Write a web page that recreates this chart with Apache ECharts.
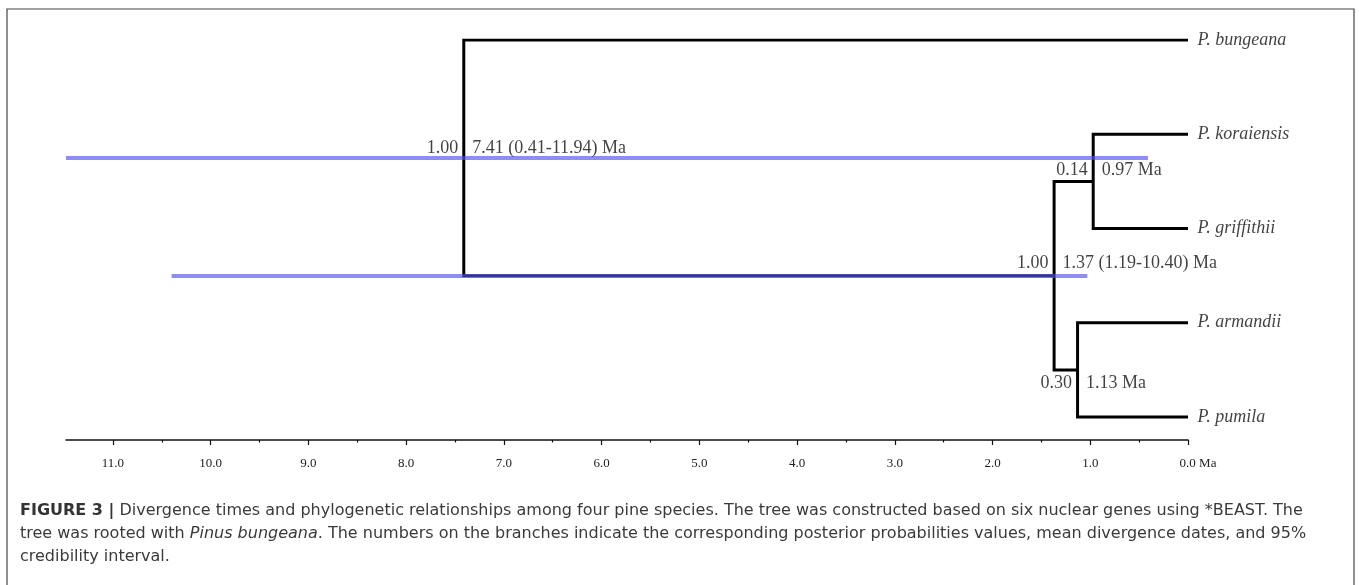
<!DOCTYPE html>
<html>
<head>
<meta charset="utf-8">
<script src="https://cdn.jsdelivr.net/npm/echarts@6/dist/echarts.min.js"></script>
<style>html,body{margin:0;padding:0;background:#fff}#c{width:1359px;height:585px}</style>
</head>
<body>
<div id="c"></div>
<script>
// ---- data ----
const species = ['P. bungeana', 'P. koraiensis', 'P. griffithii', 'P. armandii', 'P. pumila'];
const nodeIds = ['root', 'nA', 'nB', 'nC'];
const nodeAges = [7.41, 1.37, 0.97, 1.13];
const nodeChildren = [['P. bungeana', 'nA'], ['nB', 'nC'], ['P. koraiensis', 'P. griffithii'], ['P. armandii', 'P. pumila']];
const posteriors = ['1.00', '1.00', '0.14', '0.30'];
const hpdLow = [0.41, 1.19, null, null];
const hpdHigh = [11.94, 10.40, null, null];
const hpdBarFrom = [0.41, 1.03, null, null];   // bar ends
const hpdBarTo = [11.94, 10.40, null, null];
const majorTicks = [0, 1, 2, 3, 4, 5, 6, 7, 8, 9, 10, 11];
const minorTicks = [0.5, 1.5, 2.5, 3.5, 4.5, 5.5, 6.5, 7.5, 8.5, 9.5, 10.5];
const xMax = 11.48;
const yMax = 4.244;

// ---- label offsets (layout, not data) ----
const labelDy = { root: -10, nA: -12, nB: -11, nC: 13 };

// ---- tree layout ----
const yOf = {};
species.forEach((s, i) => { yOf[s] = i; });
const ageOf = {};
species.forEach(s => { ageOf[s] = 0; });
nodeIds.forEach((id, i) => { ageOf[id] = nodeAges[i]; });
function nodeY(id) {
  if (yOf[id] !== undefined) return yOf[id];
  const i = nodeIds.indexOf(id);
  const ys = nodeChildren[i].map(nodeY);
  yOf[id] = (ys[0] + ys[1]) / 2;
  return yOf[id];
}
nodeY('root');

const branchData = nodeIds.map((id, i) => {
  const [c1, c2] = nodeChildren[i];
  return {
    coords: [[ageOf[c1], yOf[c1]], [nodeAges[i], yOf[c1]], [nodeAges[i], yOf[c2]], [ageOf[c2], yOf[c2]]]
  };
});

const barData = [];
nodeIds.forEach((id, i) => {
  if (hpdBarFrom[i] != null) {
    barData.push({ coords: [[hpdBarFrom[i], yOf[id]], [Math.min(hpdBarTo[i], xMax), yOf[id]]] });
  }
});

const serif = 'Liberation Serif';
const postData = nodeIds.map((id, i) => ({
  value: [nodeAges[i], yOf[id]],
  label: { formatter: posteriors[i], offset: [0, labelDy[id]] }
}));
const ageData = nodeIds.map((id, i) => ({
  value: [nodeAges[i], yOf[id]],
  label: {
    formatter: hpdLow[i] != null
      ? nodeAges[i].toFixed(2) + ' (' + hpdLow[i].toFixed(2) + '-' + hpdHigh[i].toFixed(2) + ') Ma'
      : nodeAges[i].toFixed(2) + ' Ma',
    offset: [0, labelDy[id]]
  }
}));
const tipData = species.map((s, i) => ({ value: [0, i], name: s }));

const capFont = '"DejaVu Sans"';
const capSize = 16;

const chart = echarts.init(document.getElementById('c'), null, { renderer: 'canvas' });
chart.setOption({
  animation: false,
  backgroundColor: '#fff',
  grid: { left: 66, right: 171, top: 40, height: 400 },
  xAxis: [{
    type: 'value', inverse: true, min: 0, max: xMax, position: 'bottom',
    splitLine: { show: false },
    axisLine: { show: true, onZero: false, lineStyle: { color: '#111', width: 1.5 } },
    axisTick: { show: true, customValues: majorTicks, length: 5, lineStyle: { color: '#111', width: 1.2 } },
    axisLabel: {
      customValues: majorTicks, margin: 17,
      fontFamily: serif, fontSize: 13, color: '#222',
      formatter: v => v === 0 ? '{z|0.0 Ma}' : v.toFixed(1),
      rich: { z: { fontFamily: serif, fontSize: 13, color: '#222', padding: [0, 0, 0, 20] } }
    }
  }, {
    type: 'value', inverse: true, min: 0, max: xMax, position: 'bottom',
    splitLine: { show: false },
    axisLine: { show: false, onZero: false },
    axisTick: { show: true, customValues: minorTicks, length: 2.5, lineStyle: { color: '#111', width: 1.2 } },
    axisLabel: { show: false }
  }],
  yAxis: { type: 'value', inverse: true, min: 0, max: yMax, show: false },
  series: [
    {
      type: 'lines', coordinateSystem: 'cartesian2d', polyline: true, z: 2,
      lineStyle: { color: '#000', width: 3, opacity: 1, join: 'miter' },
      data: branchData
    },
    {
      type: 'lines', coordinateSystem: 'cartesian2d', z: 3, clip: true,
      lineStyle: { color: 'rgba(80,80,235,0.65)', width: 4, opacity: 1, cap: 'butt' },
      data: barData
    },
    {
      type: 'scatter', z: 4, symbolSize: 1, itemStyle: { color: 'rgba(0,0,0,0)' },
      label: { show: true, position: 'left', distance: 5, fontFamily: serif, fontSize: 18, color: '#111' },
      data: postData
    },
    {
      type: 'scatter', z: 4, symbolSize: 1, itemStyle: { color: 'rgba(0,0,0,0)' },
      label: { show: true, position: 'right', distance: 8, fontFamily: serif, fontSize: 18, color: '#111' },
      data: ageData
    },
    {
      type: 'scatter', z: 4, symbolSize: 1, itemStyle: { color: 'rgba(0,0,0,0)' },
      label: { show: true, position: 'right', distance: 9, fontFamily: serif, fontStyle: 'italic', fontSize: 18, color: '#111', formatter: p => p.name },
      data: tipData
    }
  ],
  graphic: [
    { type: 'rect', silent: true, shape: { x: 7, y: 9, width: 1347, height: 620 },
      style: { fill: 'none', stroke: '#444', lineWidth: 1.2 } },
    { type: 'text', x: 20, y: 511, silent: true,
      style: { text: '{b|FIGURE 3 |} Divergence times and phylogenetic relationships among four pine species. The tree was constructed based on six nuclear genes using *BEAST. The',
        font: capSize + 'px ' + capFont, fill: '#3a3a3a', verticalAlign: 'middle',
        rich: { b: { font: 'bold ' + capSize + 'px ' + capFont, fill: '#333' } } } },
    { type: 'text', x: 20, y: 534, silent: true,
      style: { text: 'tree was rooted with {i|Pinus bungeana}. The numbers on the branches indicate the corresponding posterior probabilities values, mean divergence dates, and 95%',
        font: capSize + 'px ' + capFont, fill: '#3a3a3a', verticalAlign: 'middle',
        rich: { i: { font: 'italic ' + capSize + 'px ' + capFont, fill: '#3a3a3a' } } } },
    { type: 'text', x: 20, y: 557, silent: true,
      style: { text: 'credibility interval.', font: capSize + 'px ' + capFont, fill: '#3a3a3a', verticalAlign: 'middle' } }
  ]
});
</script>
</body>
</html>
